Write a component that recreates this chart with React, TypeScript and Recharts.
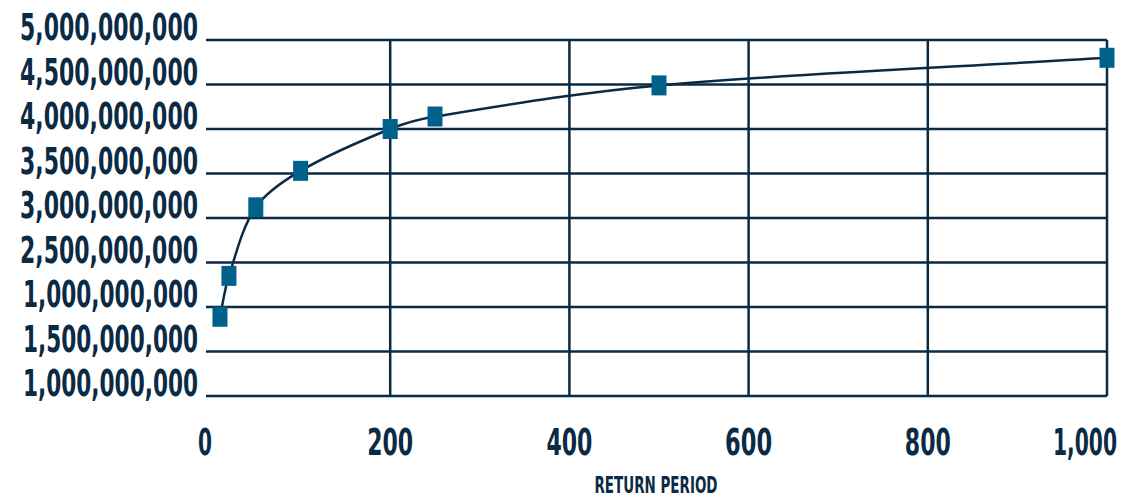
import React from 'react';
import { LineChart, Line, XAxis, YAxis, CartesianGrid, ReferenceLine } from 'recharts';

// Loss estimates by return period
const returnPeriods = [10, 20, 50, 100, 200, 250, 500, 1000];
const lossValues = [1.89e9, 2.35e9, 3.12e9, 3.53e9, 4.0e9, 4.14e9, 4.49e9, 4.8e9];

// Axis ticks and their printed labels
const yTicks = [1e9, 1.5e9, 2e9, 2.5e9, 3e9, 3.5e9, 4e9, 4.5e9, 5e9];
const yTickLabels = [
  '1,000,000,000',
  '1,500,000,000',
  '1,000,000,000',
  '2,500,000,000',
  '3,000,000,000',
  '3,500,000,000',
  '4,000,000,000',
  '4,500,000,000',
  '5,000,000,000',
];
const xTicks = [0, 200, 400, 600, 800, 1000];
const xTickLabels = ['0', '200', '400', '600', '800', '1,000'];
const xGridLines = [200, 400, 600, 800, 1000];

const data = returnPeriods.map((rp, i) => ({ rp, loss: lossValues[i] }));

const NAVY = '#0b2a44';
const TEAL = '#00628b';
const FONT = '"Liberation Sans Narrow", "DejaVu Sans Condensed", "Roboto", sans-serif';

// Smoothed polyline: Bezier segments whose control handles follow the
// neighbour-to-neighbour direction, sized by the adjacent segment lengths
// so short segments do not overshoot.
const smoothLine = (context: any) => {
  let pts: [number, number][] = [];
  const dist = (a: [number, number], b: [number, number]) => Math.hypot(b[0] - a[0], b[1] - a[1]);
  return {
    areaStart() {},
    areaEnd() {},
    lineStart() {
      pts = [];
    },
    point(x: number, y: number) {
      pts.push([+x, +y]);
    },
    lineEnd() {
      const n = pts.length;
      if (n === 0) return;
      context.moveTo(pts[0][0], pts[0][1]);
      if (n === 1) return;
      const outH: [number, number][] = [];
      const inH: [number, number][] = [];
      for (let i = 0; i < n; i++) {
        const p = pts[i];
        if (i === 0 || i === n - 1) {
          const q = i === 0 ? pts[1] : pts[n - 2];
          const h: [number, number] = [p[0] + (q[0] - p[0]) / 3, p[1] + (q[1] - p[1]) / 3];
          outH.push(h);
          inH.push(h);
          continue;
        }
        const prev = pts[i - 1];
        const next = pts[i + 1];
        const dIn = dist(prev, p);
        const dOut = dist(p, next);
        const tx = next[0] - prev[0];
        const ty = next[1] - prev[1];
        const sum = dIn + dOut || 1;
        outH.push([p[0] + (tx * dOut) / (3 * sum), p[1] + (ty * dOut) / (3 * sum)]);
        inH.push([p[0] - (tx * dIn) / (3 * sum), p[1] - (ty * dIn) / (3 * sum)]);
      }
      for (let i = 0; i < n - 1; i++) {
        const c1 = outH[i];
        const c2 = inH[i + 1];
        const p2 = pts[i + 1];
        context.bezierCurveTo(c1[0], c1[1], c2[0], c2[1], p2[0], p2[1]);
      }
    },
  };
};

const YTick = (props: any) => {
  const { y, payload } = props;
  const idx = yTicks.indexOf(payload.value);
  const label = idx >= 0 ? yTickLabels[idx] : String(payload.value);
  const narrow = label.startsWith('1');
  return (
    <text
      x={198}
      y={y}
      textAnchor="end"
      fill={NAVY}
      fontFamily={FONT}
      fontWeight={700}
      fontSize={37}
      textLength={narrow ? 175 : 178}
      lengthAdjust="spacingAndGlyphs"
    >
      {label}
    </text>
  );
};

const xLabelWidths: Record<string, number> = {
  '0': 14,
  '200': 46,
  '400': 46,
  '600': 47,
  '800': 46,
  '1,000': 64,
};

// Condensed look for the x labels: glyphs drawn wider, then squeezed horizontally
const X_SQUEEZE = 0.68;

const XTick = (props: any) => {
  const { x, y, payload } = props;
  const idx = xTicks.indexOf(payload.value);
  const label = idx >= 0 ? xTickLabels[idx] : String(payload.value);
  const isLast = idx === xTicks.length - 1;
  let tx = x;
  if (idx === 0) tx = x - 6;
  // the last label is right-aligned so it stays inside the frame
  if (isLast) tx = x + 10;
  const w = xLabelWidths[label] ?? 46;
  return (
    <g transform={`translate(${tx},${y + 59}) scale(${X_SQUEEZE},1)`}>
      <text
        x={0}
        y={0}
        textAnchor={isLast ? 'end' : 'middle'}
        fill={NAVY}
        fontFamily={FONT}
        fontWeight={700}
        fontSize={38}
        textLength={w / X_SQUEEZE}
        lengthAdjust="spacingAndGlyphs"
      >
        {label}
      </text>
    </g>
  );
};

const AxisTitle = (props: any) => {
  const vb = props.viewBox || {};
  const cx = (vb.x ?? 0) + (vb.width ?? 0) / 2;
  return (
    <text
      x={cx - 3}
      y={493}
      textAnchor="middle"
      fill={NAVY}
      fontFamily={FONT}
      fontWeight={700}
      fontSize={23}
      textLength={123}
      lengthAdjust="spacingAndGlyphs"
    >
      RETURN PERIOD
    </text>
  );
};

const SquareDot = (props: any) => {
  const { cx, cy } = props;
  if (cx == null || cy == null) return null;
  return <rect x={cx - 7.5} y={cy - 10} width={15} height={20} fill={TEAL} />;
};

export default function App() {
  return (
    <div style={{ position: 'absolute', left: 0, top: 0, width: 1126, height: 500, background: '#fff' }}>
      <LineChart width={1126} height={500} data={data} margin={{ top: 40, right: 19, bottom: 0, left: 0 }}>
        <CartesianGrid vertical={false} stroke={NAVY} strokeWidth={2.5} />
        {xGridLines.map((v) => (
          <ReferenceLine key={v} x={v} stroke={NAVY} strokeWidth={2.5} ifOverflow="extendDomain" />
        ))}
        <XAxis
          dataKey="rp"
          type="number"
          domain={[0, 1000]}
          ticks={xTicks}
          axisLine={false}
          tickLine={false}
          tickSize={0}
          tickMargin={0}
          height={104}
          tick={<XTick />}
          interval={0}
          label={<AxisTitle />}
        />
        <YAxis
          type="number"
          domain={[1e9, 5e9]}
          ticks={yTicks}
          axisLine={false}
          tickLine={{ stroke: NAVY, strokeWidth: 2.5 }}
          tickSize={5}
          tickMargin={3}
          width={211}
          tick={<YTick />}
          interval={0}
        />
        <Line
          type={smoothLine as any}
          dataKey="loss"
          stroke={NAVY}
          strokeWidth={2.5}
          dot={<SquareDot />}
          activeDot={false}
          isAnimationActive={false}
        />
      </LineChart>
    </div>
  );
}
